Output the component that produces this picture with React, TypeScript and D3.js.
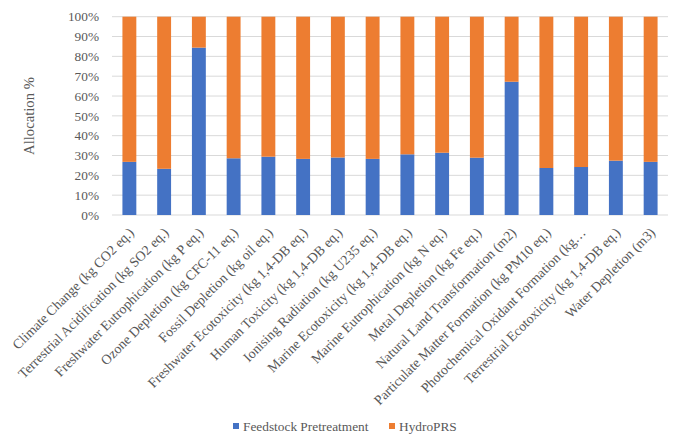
import React from "react";
import * as d3 from "d3";

const categories = [
  "Climate Change (kg CO2 eq.)",
  "Terrestrial Acidification (kg SO2 eq.)",
  "Freshwater Eutrophication (kg P eq.)",
  "Ozone Depletion (kg CFC-11 eq.)",
  "Fossil Depletion (kg oil eq.)",
  "Freshwater Ecotoxicity (kg 1,4-DB eq.)",
  "Human Toxicity (kg 1,4-DB eq.)",
  "Ionising Radiation (kg U235 eq.)",
  "Marine Ecotoxicity (kg 1,4-DB eq.)",
  "Marine Eutrophication (kg N eq.)",
  "Metal Depletion (kg Fe eq.)",
  "Natural Land Transformation (m2)",
  "Particulate Matter Formation (kg PM10 eq.)",
  "Photochemical Oxidant Formation (kg…",
  "Terrestrial Ecotoxicity (kg 1,4-DB eq.)",
  "Water Depletion (m3)",
];

const feedstock = [26.8, 23.3, 84.4, 28.6, 29.4, 28.3, 29.0, 28.3, 30.6, 31.4, 28.9, 67.2, 23.7, 24.2, 27.4, 26.8];
const hydro = feedstock.map((v) => 100 - v);

const seriesNames = ["Feedstock Pretreatment", "HydroPRS"];
const colors = ["#4472C4", "#ED7D31"];
const yTicks = [0, 10, 20, 30, 40, 50, 60, 70, 80, 90, 100];

const W = 685;
const H = 448;
const left = 112;
const right = 668;
const top = 16.7;
const bottom = 215;

const font = "'Liberation Serif', 'Times New Roman', serif";

export default function App() {
  const x = d3.scaleBand<string>().domain(categories).range([left, right]).paddingInner(0.6).paddingOuter(0.3);
  const y = d3.scaleLinear().domain([0, 100]).range([bottom, top]);
  const textColor = "#595959";

  const stack = d3.stack<any>().keys(["a", "b"])(
    categories.map((c, i) => ({ c, a: feedstock[i], b: hydro[i] }))
  );

  return (
    <svg width={W} height={H} style={{ position: "absolute", left: 0, top: 0, fontFamily: font }}>
      <rect x={0} y={0} width={W} height={H} fill="#fff" />
      {yTicks.map((t) => (
        <g key={t}>
          <line x1={left} x2={right} y1={y(t)} y2={y(t)} stroke="#d9d9d9" strokeWidth={1} />
          <text x={99} y={y(t)} dy="0.35em" textAnchor="end" style={{ fontFamily: font, fontSize: 13.33 }} fill={textColor}>
            {t}%
          </text>
        </g>
      ))}
      {stack.map((s, si) =>
        s.map((d, i) => (
          <rect
            key={si + "-" + i}
            x={x(categories[i])!}
            width={x.bandwidth()}
            y={y(d[1])}
            height={y(d[0]) - y(d[1])}
            fill={colors[si]}
          />
        ))
      )}
      {categories.map((c) => {
        const cx = x(c)! + x.bandwidth() / 2 + 2;
        const cy = 230;
        return (
          <text
            key={c}
            transform={`translate(${cx},${cy}) rotate(-45)`}
            textAnchor="end"
            dy="0.35em"
            style={{ fontFamily: font, fontSize: 13.8 }}
            fill={textColor}
          >
            {c}
          </text>
        );
      })}
      <text
        transform={`translate(34,116) rotate(-90)`}
        textAnchor="middle"
        style={{ fontFamily: font, fontSize: 14.67 }}
        fill={textColor}
      >
        Allocation %
      </text>
      {seriesNames.map((n, i) => {
        const lx = i === 0 ? 233 : 389;
        return (
          <g key={n}>
            <rect x={lx} y={423} width={6} height={6} fill={colors[i]} />
            <text x={lx + 10} y={426} dy="0.35em" style={{ fontFamily: font, fontSize: 13.33 }} fill={textColor}>
              {n}
            </text>
          </g>
        );
      })}
    </svg>
  );
}
